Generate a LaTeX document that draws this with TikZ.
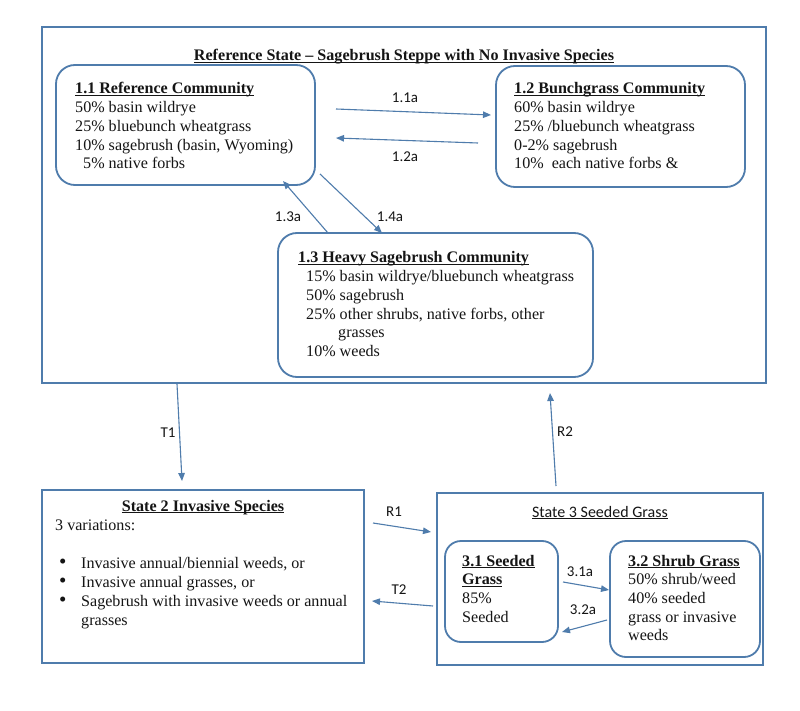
\documentclass[tikz,border=0pt]{standalone}
\usepackage{fontspec}
\setmainfont{Liberation Serif}
\newfontfamily\labfont{Carlito}
\usetikzlibrary{arrows.meta,fit}
\definecolor{ln}{HTML}{4F7CAC}
\definecolor{tx}{HTML}{151515}
\newcommand\mylines[1]{\begin{tabular}[t]{@{}l@{}}#1\end{tabular}}
\newcommand\myul[1]{\setbox0\hbox{#1}\rlap{\rule[-2.3pt]{\wd0}{0.9pt}}\box0}
\newcommand\mybul{\makebox[22pt][l]{\raisebox{-0.5pt}{\fontsize{21}{19}\selectfont\textbullet}}}
\begin{document}
\begin{tikzpicture}[x=1pt,y=-1pt,
  box/.style={draw=ln, line width=1.8pt, inner sep=0pt},
  rbox/.style={box, rounded corners=19pt},
  arr/.style={draw=ln, line width=1.1pt, -{Triangle[length=8pt,width=6.5pt]}},
  lbl/.style={font=\labfont\fontsize{15}{17}\selectfont, text=tx, inner sep=0pt},
  txt/.style={font=\fontsize{16.1}{18.7}\selectfont, text=tx, anchor=base west, inner sep=0pt},
  ttl/.style={font=\fontsize{16.1}{18.7}\selectfont\bfseries, text=tx, anchor=base, inner sep=0pt},
]
\useasboundingbox (0,0) rectangle (800,711);
\fill[white] (0,0) rectangle (800,711);

% boxes
\node[box, fit={(42,27) (766,383)}] (ref) {};
\node[rbox, fit={(56,65) (315,185)}] (b11) {};
\node[rbox, fit={(496,66) (745,187)}] (b12) {};
\node[rbox, fit={(278,233) (593,377)}] (b13) {};
\node[box, fit={(42,490) (364,663)}] (s2) {};
\node[box, fit={(437,493) (763,665)}] (s3) {};
\node[rbox, rounded corners=16pt, fit={(445,541) (558,642)}] (b31) {};
\node[rbox, rounded corners=16pt, fit={(610,541) (760,657)}] (b32) {};

% texts
\node[ttl] (tref) at (404,61) {\myul{Reference State -- Sagebrush Steppe with No Invasive Species}};
\node[txt] (t11) at (75,94) {\mylines{\myul{\textbf{1.1 Reference Community}}\\
50\% basin wildrye\\ 25\% bluebunch wheatgrass\\ 10\% sagebrush (basin, Wyoming)\\ \hspace{8pt}5\% native forbs}};
\node[txt] (t12) at (514,94) {\mylines{\myul{\textbf{1.2 Bunchgrass Community}}\\
60\% basin wildrye\\ 25\% /bluebunch wheatgrass\\ 0-2\% sagebrush\\ 10\%\ \ each native forbs \&}};
\node[txt] (t13) at (298,263) {\mylines{\myul{\textbf{1.3 Heavy Sagebrush Community}}\\
\hspace{8pt}15\% basin wildrye/bluebunch wheatgrass\\ \hspace{8pt}50\% sagebrush\\
\hspace{8pt}25\% other shrubs, native forbs, other\\ \hspace{40pt}grasses\\ \hspace{8pt}10\% weeds}};

\node[ttl] (ts2) at (203,511) {\myul{State 2 Invasive Species}};
\node[txt, font=\fontsize{16.1}{19}\selectfont] (t2) at (55,530) {\mylines{3 variations:\\ \\
\hspace{4pt}\mybul Invasive annual/biennial weeds, or\\
\hspace{4pt}\mybul Invasive annual grasses, or\\
\hspace{4pt}\mybul Sagebrush with invasive weeds or annual\\
\hspace{26pt}grasses}};

\node[ttl, font=\labfont\fontsize{16}{18}\selectfont] (ts3) at (600,517) {\myul{State 3 Seeded Grass}};
\node[txt] (t31) at (462,566) {\mylines{\myul{\textbf{3.1 Seeded}}\\ \myul{\textbf{Grass}}\\ 85\%\\ Seeded}};
\node[txt] (t32) at (628,566) {\mylines{\myul{\textbf{3.2 Shrub Grass}}\\ 50\% shrub/weed\\ 40\% seeded\\ grass or invasive\\ weeds}};

% arrow ends
\coordinate (a1s) at (336,109); \coordinate (a1e) at (491,115);
\coordinate (a2s) at (478,143); \coordinate (a2e) at (336,138);
\coordinate (a3s) at (328,233); \coordinate (a3e) at (283,181);
\coordinate (a4s) at (320,174); \coordinate (a4e) at (382,233);
\coordinate (t1s) at (177,384); \coordinate (t1e) at (182,481);
\coordinate (r2s) at (556,486); \coordinate (r2e) at (550,393);
\coordinate (r1s) at (373,523); \coordinate (r1e) at (431,532);
\coordinate (t2s) at (433,606); \coordinate (t2e) at (372,601);
\coordinate (c1s) at (563,582); \coordinate (c1e) at (609,590);
\coordinate (c2s) at (607,620); \coordinate (c2e) at (562,632);

\draw[arr] (a1s) -- (a1e);
\draw[arr] (a2s) -- (a2e);
\draw[arr] (a3s) -- (a3e);
\draw[arr] (a4s) -- (a4e);
\draw[arr] (t1s) -- (t1e);
\draw[arr] (r2s) -- (r2e);
\draw[arr] (r1s) -- (r1e);
\draw[arr] (t2s) -- (t2e);
\draw[arr] (c1s) -- (c1e);
\draw[arr] (c2s) -- (c2e);

% labels
\node[lbl] (l11) at (405,98) {1.1a};
\node[lbl] (l12) at (405,157) {1.2a};
\node[lbl] (l13) at (288,217) {1.3a};
\node[lbl] (l14) at (390,217) {1.4a};
\node[lbl] (lt1) at (168,433) {T1};
\node[lbl] (lr2) at (565,432) {R2};
\node[lbl] (lr1) at (394,512) {R1};
\node[lbl] (lt2) at (399,590) {T2};
\node[lbl] (l31) at (580,572) {3.1a};
\node[lbl] (l32) at (583,610) {3.2a};
\end{tikzpicture}
\end{document}
